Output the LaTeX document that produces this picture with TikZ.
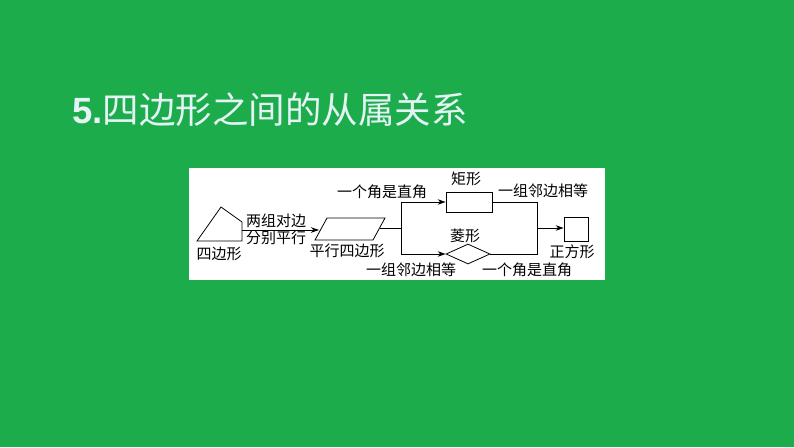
\documentclass[tikz,border=0pt]{standalone}
\usepackage{fontspec}
\setmainfont{Liberation Sans}
\newfontfamily\cjk{Noto Sans CJK SC}
\usetikzlibrary{shapes.geometric,arrows.meta}
\definecolor{bggreen}{RGB}{28,172,76}
\definecolor{titlecol}{RGB}{228,243,244}
\tikzset{
  lbl/.style={font=\cjk\fontsize{15}{15}\selectfont, inner sep=0pt, text=black},
  ln/.style={draw=black, line width=0.8pt},
  arr/.style={ln, -{Stealth[length=8pt,width=5.5pt]}},
}
\begin{document}
\begin{tikzpicture}[x=1pt,y=-1pt]
\useasboundingbox (0,0) rectangle (794,447);
\fill[bggreen] (0,0) rectangle (794,447);
\node[anchor=west, inner sep=0pt, text=titlecol] (title) at (72,110)
  {\fontsize{36.5}{36.5}\selectfont\textbf{5.}\cjk 四边形之间的从属关系};
\fill[white] (189,168) rectangle (605,280);
% quadrilateral
\draw[ln, line join=miter] (197,241) -- (221,207) -- (242,222) -- (242,241) -- cycle;
\coordinate (quadR) at (242,230);
\node[lbl] (lq) at (219,254) {四边形};
% parallelogram
\draw[ln] (315,240) -- (327,218) -- (385,218) -- (373,240) -- cycle;
\coordinate (parL) at (319,230);
\coordinate (parR) at (379.5,228);
\node[lbl] (lp) at (347,251) {平行四边形};
\draw[arr] (quadR) -- (parL);
\node[lbl] (c1) at (276,221) {两组对边};
\node[lbl] (c2) at (276,238) {分别平行};
% split
\coordinate (split) at (401,228);
\coordinate (splitT) at (401,202);
\coordinate (splitB) at (401,254);
\draw[ln] (parR) -- (split);
\draw[ln] (splitT) -- (splitB);
% rectangle
\node[draw=black, line width=0.8pt, minimum width=46pt, minimum height=20pt, inner sep=0pt] (rect) at (469,202) {};
\node[lbl] (lr) at (466,179) {矩形};
\draw[arr] (splitT) -- (rect.west);
\node[lbl] (c3) at (382,192) {一个角是直角};
% rhombus
\node[draw=black, line width=0.8pt, diamond, aspect=2.2, minimum width=44pt, minimum height=20pt, inner sep=0pt] (rho) at (468,254) {};
\node[lbl] (lh) at (465,236) {菱形};
\draw[arr] (splitB) -- (rho.west);
\node[lbl] (c4) at (411,270) {一组邻边相等};
% merge
\coordinate (mergeT) at (537,202);
\coordinate (mergeB) at (537,254);
\coordinate (merge) at (537,228);
\draw[ln] (rect.east) -- (mergeT) -- (mergeB) -- (rho.east);
\node[lbl] (c5) at (543,191) {一组邻边相等};
\node[lbl] (c6) at (527,270) {一个角是直角};
% square
\node[draw=black, line width=0.8pt, minimum width=24pt, minimum height=24pt, inner sep=0pt] (sq) at (576,229) {};
\node[lbl] (ls) at (572,252) {正方形};
\draw[arr] (merge) -- (sq.west |- merge);
\end{tikzpicture}
\end{document}
